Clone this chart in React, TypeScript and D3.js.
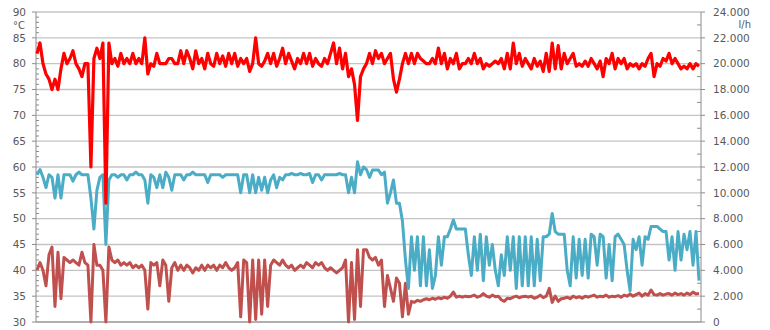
import React from 'react';
import * as d3 from 'd3';

// Vorlauftemperatur (°C)
const supplyTemp: number[] = [
  82,84,80,78,77,75,77,75,79,82,
  80,81,82.5,80,79,77.5,80,80,60,81,
  83,81,84,53,84,80,81,79.5,82,80,
  81,80,82,80,81,80,85,78,80,79.5,
  82,80,80,80,81,81,80,80,82.5,80,
  82.5,81,79,82.5,80,81,79,82,80,79.5,
  82,80,81.5,79.5,82,80,82,79.5,81,80,
  81,78.5,80,85,80,79.5,80.5,82,80,82,
  79.5,81,83,80,82,80.5,79,81,80,82,
  80,82,79.5,81,80,79.5,81,80,82,84,
  80,83,79,82,77.5,79,76,69,77.5,79,
  80,82,80,82.5,81,82,80,81,82,77,
  74.5,77,80,82,80,82,80,82,81,80.5,
  80,80,81,80,83,80,82,79,81,80,
  82,79,80,80,81,80,82,80,81,79,
  80,79.5,80,80.5,80,81,79,82,79,84,
  80,82,79.5,81,80,79,81,79.5,80.5,78.5,
  82,78.5,84,79,83.5,79,82,80,81,82,
  79.5,80,79.5,80.5,79.5,81,80,79,80.5,77.5,
  81,80,82,79,81,80,81,79,80,79.5,
  80,79,80,79.5,81,82,77.5,80,79.5,81,
  80.5,82,80,81,80,79,79.5,79,80,79,
  80,79.5,
];

// Volumenstrom (l/h)
const flow: number[] = [
  11400,11800,11200,10400,11400,11200,9600,11400,9600,11400,
  11400,11400,10900,11400,11600,11400,11400,11400,9600,7200,
  10200,11200,11400,6000,11000,11400,11400,11200,11400,11400,
  11000,11400,11400,11600,11400,11400,11000,9200,11400,11200,
  10400,11400,10400,11600,11200,10200,11400,11400,11400,11000,
  11400,11400,11600,11400,11400,11400,11400,10800,11400,11400,
  11400,11400,11200,11400,11400,11400,11400,11400,10000,11400,
  11400,10000,11400,10000,11200,10200,11200,10000,11000,11400,
  10400,11200,11000,11400,11400,11500,11400,11400,11500,11400,
  11400,11500,10800,11400,11400,11000,11400,11400,11400,11400,
  11400,11500,11400,11400,10000,11200,10000,12400,11400,12000,
  11800,11200,11760,11760,11760,11400,11600,9200,10000,11000,
  9200,9200,7800,4800,2600,6600,4000,6600,2800,6600,
  2800,5600,2600,3600,6600,4400,6600,6600,7200,7900,
  7200,7200,7200,7200,5200,3600,6600,4000,6800,3200,
  6600,4400,6000,4000,2800,5200,3600,6600,4000,6600,
  2600,6600,2800,6600,2800,6600,2800,6400,3200,6600,
  6600,6800,8400,7000,6800,6800,6800,4000,2800,6600,
  3400,6400,3600,6400,3400,6800,6600,4400,6800,6600,
  3400,6000,3200,6600,6800,6400,6000,4000,2400,6400,
  5600,6600,4400,6600,6400,7400,7400,7400,7200,7000,
  7000,4800,6600,4000,7000,4800,6800,5600,7000,4400,
  7000,3200,
];

// Rücklauftemperatur (°C)
const returnTemp: number[] = [
  40,41.5,40,37,43,44.5,33,43.5,34.5,42.5,
  42,41.5,42,41.5,41,43.5,41.5,41,30,45,
  41,41,40,30,44.5,42,41.5,42,41,41.5,
  41,41.5,40.5,41,40.5,41,40,32.5,41.5,41,
  41.5,37,42,41,34,40.5,41.5,40,41,40,
  41,40.5,39.5,40.5,40,41,40,41,40.5,41,
  40,41,40.5,41.5,40.5,40,40.5,41.5,31,42,
  41.5,30,42,30.5,42,31.5,42,33,41,42,
  41.5,41,42,41,40.5,41,40,40.5,41,40.5,
  41.5,41,40.5,41.5,41,41.5,40.5,40,40.5,40,
  39.5,40,40.5,42,30,41.5,30.5,44,33,44,
  44,42.5,42,42.5,41,42,33,39,36.5,34,
  38.5,37.5,31,37.5,31.5,34,33.8,34.2,34,34.3,
  34.5,34.3,34.6,34.4,34.7,34.5,34.8,34.6,35,35.8,
  34.8,35,34.8,35,34.9,35,35.2,34.8,35,35.5,
  35,34.8,35.2,34.9,35,34.3,34,34.6,34.5,34.8,
  35,34.7,34.9,35,34.8,35,34.6,34.8,35.2,34.7,
  35,36.5,33.8,35,34,34.5,34.6,34.8,34.5,35,
  34.7,34.9,34.6,35,34.8,35,35.2,34.8,35,34.9,
  35.2,34.8,35,34.9,35.1,34.8,35.2,35,35.4,35,
  35.3,35.6,35,35.5,35.2,36.2,35.3,35.2,35.5,35.2,
  35.4,35.5,35.2,35.6,35.3,35.5,35.2,35.6,35.3,35.8,
  35.4,35.5,
];

const leftTicks = [30, 35, 40, 45, 50, 55, 60, 65, 70, 75, 80, 85, 90];
const rightTicks = [0, 2000, 4000, 6000, 8000, 10000, 12000, 14000, 16000, 18000, 20000, 22000, 24000];
const leftUnit = '°C';
const rightUnit = 'l/h';

const deFormat = d3.formatLocale({ decimal: ',', thousands: '.', grouping: [3], currency: ['', '€'] }).format(',');

export default function App() {
  const W = 770, H = 330;
  const axL = 36, axR = 701, yTop = 12, yBot = 322;
  const x = d3.scaleLinear().domain([0, supplyTemp.length - 1]).range([37, 699]);
  const yL = d3.scaleLinear().domain([30, 90]).range([yBot, yTop]);
  const yR = d3.scaleLinear().domain([0, 24000]).range([yBot, yTop]);
  const lineL = d3.line<number>().x((_, i) => x(i)).y(d => yL(d)).curve(d3.curveLinear);
  const lineR = d3.line<number>().x((_, i) => x(i)).y(d => yR(d)).curve(d3.curveLinear);
  const minorL = d3.range(30, 91, 1).filter(v => v % 5 !== 0);
  const minorR = d3.range(1000, 24000, 2000);
  const font = 'DejaVu Sans, Verdana, sans-serif';
  const txt = '#595959';
  const grid = '#c4c4c4';
  const axis = '#8c8c8c';

  return (
    <svg width={W} height={H} style={{ position: 'absolute', left: 0, top: 0, background: '#fff' }}>
      {leftTicks.map(v => (
        <line key={'g' + v} x1={axL} x2={axR} y1={yL(v)} y2={yL(v)} stroke={grid} strokeWidth={1.3} />
      ))}
      <line x1={axL} x2={axL} y1={yTop} y2={yBot} stroke={axis} strokeWidth={1} />
      <line x1={axR} x2={axR} y1={yTop} y2={yBot} stroke={axis} strokeWidth={1} />
      <line x1={axL} x2={axR} y1={yBot} y2={yBot} stroke={axis} strokeWidth={1} />
      {leftTicks.map(v => (
        <line key={'lt' + v} x1={axL - 4} x2={axL} y1={yL(v)} y2={yL(v)} stroke={axis} />
      ))}
      {minorL.map(v => (
        <line key={'lm' + v} x1={axL} x2={axL + 3} y1={yL(v)} y2={yL(v)} stroke={axis} />
      ))}
      {rightTicks.map(v => (
        <line key={'rt' + v} x1={axR} x2={axR + 4} y1={yR(v)} y2={yR(v)} stroke={axis} />
      ))}
      {minorR.map(v => (
        <line key={'rm' + v} x1={axR - 4} x2={axR} y1={yR(v)} y2={yR(v)} stroke={axis} />
      ))}
      <path d={lineL(returnTemp) || ''} fill="none" stroke="#c0504d" strokeWidth={3} strokeLinejoin="round" />
      <path d={lineR(flow) || ''} fill="none" stroke="#4bacc6" strokeWidth={3} strokeLinejoin="round" />
      <path d={lineL(supplyTemp) || ''} fill="none" stroke="#ff0000" strokeWidth={3.2} strokeLinejoin="round" />
      {leftTicks.map(v => (
        <text key={'ll' + v} x={26} y={yL(v)} dy="0.35em" textAnchor="end" fontFamily={font} fontSize={10.5} fill={txt}>{v}</text>
      ))}
      <text x={25} y={25} dy="0.35em" textAnchor="end" fontFamily={font} fontSize={10} fill={txt}>{leftUnit}</text>
      {rightTicks.map(v => (
        <text key={'rl' + v} x={713} y={yR(v)} dy="0.35em" textAnchor="start" fontFamily={font} fontSize={10.5} fill={txt}>{deFormat(v)}</text>
      ))}
      <text x={751} y={24} dy="0.35em" textAnchor="end" fontFamily={font} fontSize={10} fill={txt}>{rightUnit}</text>
    </svg>
  );
}
